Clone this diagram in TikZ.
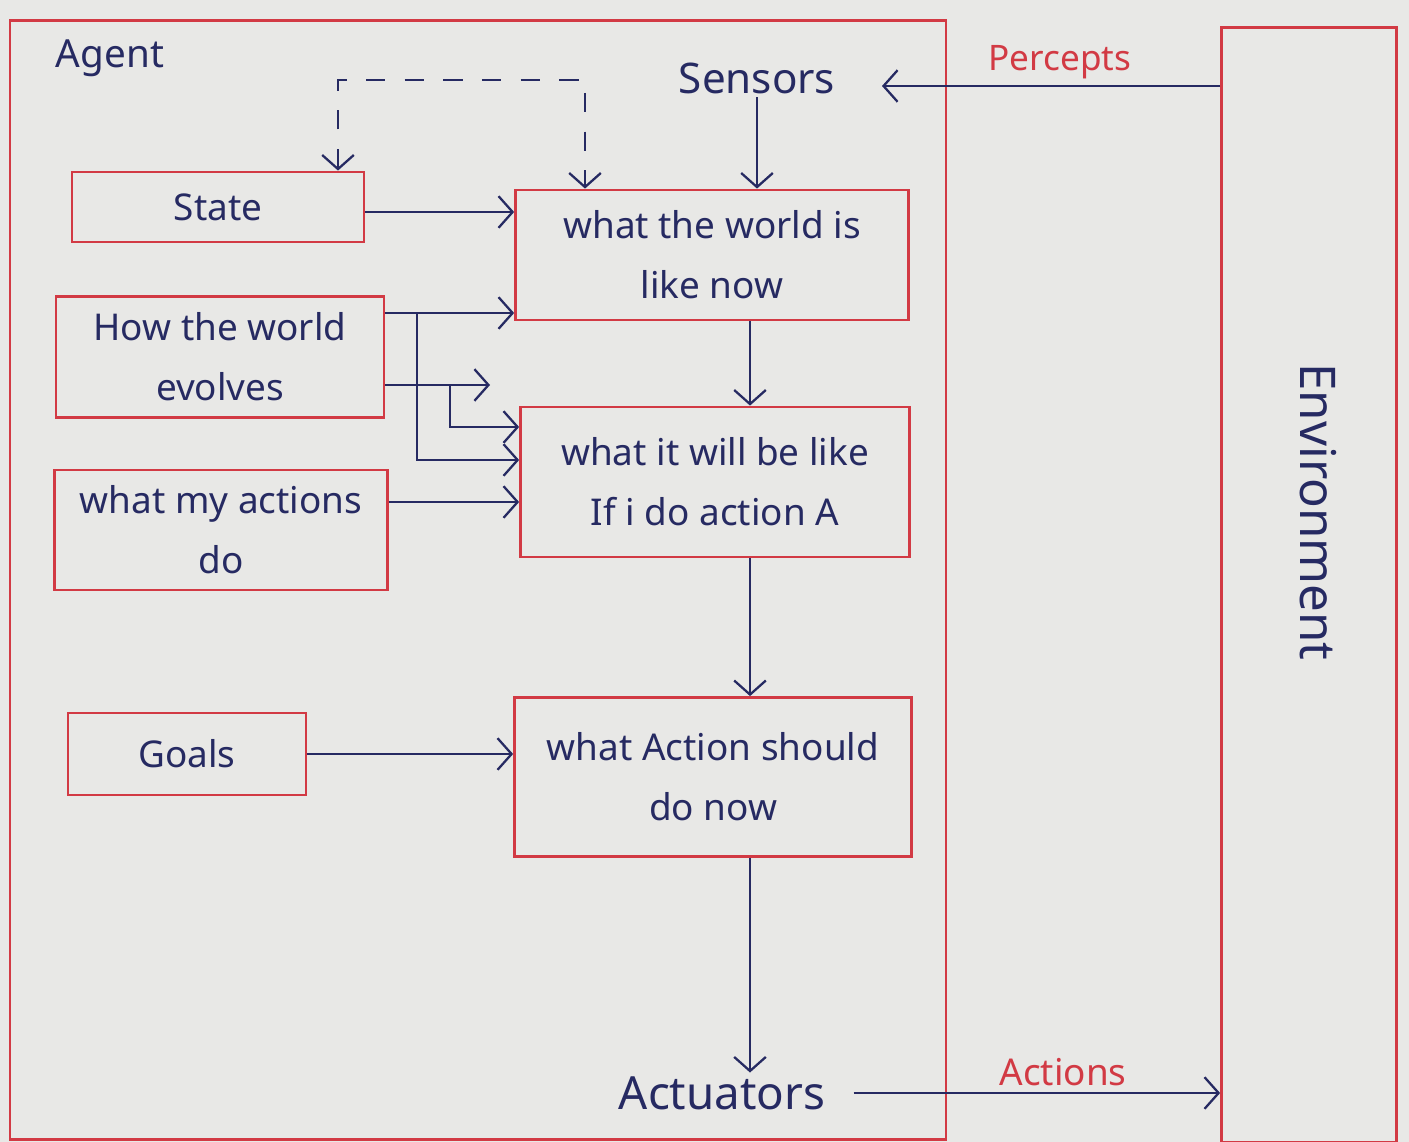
\documentclass[tikz,border=0pt]{standalone}
\usepackage{fontspec}
\setmainfont{Noto Sans}
\usetikzlibrary{arrows.meta}
\definecolor{ink}{HTML}{262A62}
\definecolor{redline}{HTML}{D23A44}
\definecolor{paper}{HTML}{E8E8E6}
\begin{document}
\begin{tikzpicture}[x=0.02cm,y=-0.02cm,
  tip/.tip={Straight Barb[length=8pt,width=18pt,line width=1.3pt]},
  box/.style={draw=redline, line width=1.6pt, text=ink, align=center, inner sep=0pt, font=\fontsize{21}{34}\selectfont},
  frame/.style={draw=redline, line width=1.6pt, inner sep=0pt},
  conn/.style={draw=ink, line width=1.3pt, -tip},
  dconn/.style={draw=ink, line width=1.3pt, tip-tip, dash pattern=on 11pt off 11pt},
  lbl/.style={text=ink, inner sep=2pt, font=\fontsize{24}{28}\selectfont},
  rlbl/.style={text=redline, inner sep=2pt, font=\fontsize{20}{24}\selectfont}]
\fill[paper] (0,0) rectangle (1409,1142);
\useasboundingbox (0,0) rectangle (1409,1142);

% frames
\node[frame, minimum width=18.72cm, minimum height=22.38cm] (agent) at (478,580) {};
\node[frame, minimum width=3.5cm, minimum height=22.3cm] (env) at (1309,585) {};

% labels
\node[lbl, font=\fontsize{22}{26}\selectfont] (agentlbl) at (110,58) {Agent};
\node[lbl] (sens) at (757,78) {Sensors};
\node[lbl, font=\fontsize{26}{30}\selectfont] (act) at (722,1093) {Actuators};
\node[rlbl] (perc) at (1060,62) {Percepts};
\node[rlbl, font=\fontsize{21}{25}\selectfont] (actions) at (1063,1072) {Actions};
\node[lbl, rotate=-90, font=\fontsize{28}{32}\selectfont] (envlbl) at (1318,512) {Environment};

% boxes
\node[box, minimum width=5.84cm, minimum height=1.4cm] (state) at (218,207) {State};
\node[box, minimum width=7.86cm, minimum height=2.6cm] (world) at (712,255) {what the world is\\like now};
\node[box, minimum width=6.56cm, minimum height=2.42cm] (hw) at (220,357) {How the world\\evolves};
\node[box, minimum width=7.78cm, minimum height=3.0cm] (willbe) at (715,482) {what it will be like\\If i do action A};
\node[box, minimum width=6.66cm, minimum height=2.4cm] (myact) at (221,530) {what my actions\\do};
\node[box, minimum width=4.76cm, minimum height=1.64cm] (goals) at (187,754) {Goals};
\node[box, minimum width=7.94cm, minimum height=3.18cm] (should) at (713,777) {what Action should\\do now};

% helper coordinates
\coordinate (d1) at (338,80);
\coordinate (d2) at (585,80);
\coordinate (spine) at (750,0);
\coordinate (ptip) at (882,86);
\coordinate (h1) at (0,313);
\coordinate (free) at (490,385);
\coordinate (j1) at (450,385);
\coordinate (j2) at (417,313);
\coordinate (a1) at (0,502);

% connectors
\draw[dconn] (state.north -| d1) -- (d1) -- (d2) -- (world.north -| d2);
\draw[conn] (env.west |- ptip) -- (ptip);
\draw[conn] (sens.south) -- (world.north -| sens.south);
\draw[conn] (state.east |- 0,212) -- (world.west |- 0,212);
\draw[conn] (hw.east |- h1) -- (world.west |- h1);
\draw[conn] (hw.east |- free) -- (free);
\draw[conn] (j1) |- (willbe.west |- 0,427);
\draw[conn] (j2) |- (willbe.west |- 0,460);
\draw[conn] (world.south -| spine) -- (willbe.north -| spine);
\draw[conn] (myact.east |- a1) -- (willbe.west |- a1);
\draw[conn] (willbe.south -| spine) -- (should.north -| spine);
\draw[conn] (goals.east) -- (should.west |- goals.east);
\draw[conn] (should.south -| spine) -- (act.north -| spine);
\draw[conn] ([xshift=14pt]act.east) -- (env.west |- act.east);
\end{tikzpicture}
\end{document}
